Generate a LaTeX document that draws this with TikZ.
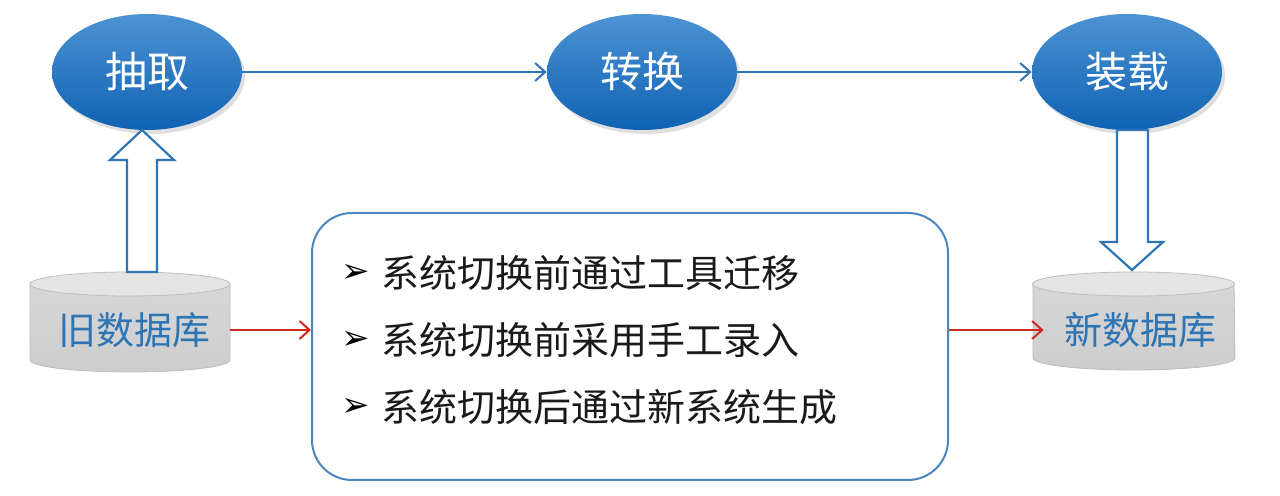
\documentclass[tikz,border=0pt]{standalone}
\usepackage{fontspec}
\setmainfont{Noto Sans CJK SC}
\newfontfamily\dejavu{DejaVu Sans}
\usetikzlibrary{arrows.meta,shadows,calc,shapes.geometric}
\definecolor{ablue}{HTML}{2E75B6}
\definecolor{eltop}{HTML}{4C93D3}
\definecolor{elbot}{HTML}{0F62B3}
\definecolor{ared}{HTML}{D02A1E}
\definecolor{boxblue}{HTML}{4A86C0}
\definecolor{dbtop}{HTML}{E4E4E4}
\definecolor{dbbody}{HTML}{CDCDCD}
\definecolor{dbline}{HTML}{BDBDBD}
\definecolor{txt}{HTML}{1A1A1A}
\tikzset{
  stage/.style={ellipse, minimum width=95pt, minimum height=58pt, inner sep=0pt,
    top color=eltop, bottom color=elbot, text=white,
    font=\fontsize{21}{24}\selectfont,
    drop shadow={opacity=0.25, shadow xshift=1.5pt, shadow yshift=-2pt}},
  flow/.style={ablue, line width=1pt, -{Straight Barb[length=5pt,width=9pt]}},
  redflow/.style={ared, line width=1pt, -{Straight Barb[length=5pt,width=9pt]}},
  hollow/.style={ablue, line width=1.1pt, fill=white, line join=miter},
  dbtext/.style={inner sep=0pt, minimum width=96pt, minimum height=40pt, text=ablue,
    font=\fontsize{19}{22}\selectfont},
  dbbodystyle/.style={top color=dbbody!80!white, bottom color=dbbody, draw=dbline, line width=0.4pt},
  dbtopstyle/.style={fill=dbtop, draw=dbline, line width=0.4pt},
  infobox/.style={draw=boxblue, line width=1pt, rounded corners=20pt, fill=white,
    minimum width=318pt, minimum height=133.5pt, inner sep=0pt},
  item/.style={anchor=west, inner sep=0pt, text=txt, font=\fontsize{19}{22}\selectfont},
  bulletmark/.style={inner sep=0pt, text=black, font=\dejavu\fontsize{17}{19}\selectfont},
}
\begin{document}
\begin{tikzpicture}[x=0.5pt,y=-0.5pt]
\useasboundingbox[fill=white] (0,0) rectangle (1280,496);

% stages
\node[stage] (e1) at (147,72) {抽取};
\node[stage] (e2) at (642,72) {转换};
\node[stage] (e3) at (1127,72) {装载};
\draw[flow] (e1.east) -- (e2.west);
\draw[flow] (e2.east) -- (e3.west);

% old database cylinder
\path[dbbodystyle] (30,284) -- (30,360) arc[start angle=180, end angle=360, x radius=50pt, y radius=6pt] -- (230,284) -- cycle;
\path[dbtopstyle] (130,284) ellipse[x radius=50pt, y radius=6pt];
\node[dbtext] (db1) at (134,330) {旧数据库};

% new database cylinder
\path[dbbodystyle] (1033,284) -- (1033,358) arc[start angle=180, end angle=360, x radius=50.5pt, y radius=6pt] -- (1234,284) -- cycle;
\path[dbtopstyle] (1133.5,284) ellipse[x radius=50.5pt, y radius=6pt];
\node[dbtext] (db2) at (1140,330) {新数据库};

% hollow arrows
\coordinate (t1) at (142,130);
\coordinate (b1) at (142,272);
\draw[hollow] (b1) ++(-15,0) -- ++(0,-112) -- ++(-17,0) -- (t1) -- ++(32,30) -- ++(-17,0) -- ++(0,112) -- cycle;
\coordinate (t2) at (1132,270);
\coordinate (b2) at (1132,130);
\draw[hollow] (b2) ++(-15,0) -- ++(0,112) -- ++(-16,0) -- (t2) -- ++(31,-28) -- ++(-15,0) -- ++(0,-112) -- cycle;

% info box
\node[infobox] (box) at (630,346.5) {};
\foreach \yy/\tt [count=\i] in {273/系统切换前通过工具迁移, 340/系统切换前采用手工录入, 407/系统切换后通过新系统生成}{
  \node[bulletmark] (bul\i) at (356,\yy) {➢};
  \node[item] (it\i) at (381,\yy) {\tt};
}

% red arrows
\draw[redflow] (db1.east) -- (db1.east -| box.west);
\draw[redflow] (box.east |- db2.west) -- (db2.west);
\end{tikzpicture}
\end{document}
